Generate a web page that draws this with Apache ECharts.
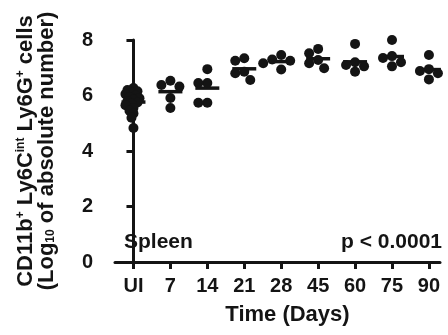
<!DOCTYPE html>
<html>
<head>
<meta charset="utf-8">
<script src="https://cdn.jsdelivr.net/npm/echarts@6/dist/echarts.min.js"></script>
<style>
  html, body { margin: 0; padding: 0; background: #fff; }
  #chart { width: 448px; height: 335px; }
</style>
</head>
<body>
<div id="chart"></div>
<script>
// Time points (days after infection; UI = uninfected)
const categories = ['UI', '7', '14', '21', '28', '45', '60', '75', '90'];

// log10 absolute number of CD11b+ Ly6C-int Ly6G+ cells per mouse
const valuesUI = [6.27, 6.20, 6.15, 6.10, 6.05, 6.00, 5.95, 5.90, 5.85, 5.80, 5.75, 5.70, 5.65, 5.55, 5.45, 5.35, 5.20, 4.83];
const values7  = [6.53, 6.38, 6.32, 5.91, 5.55];
const values14 = [6.95, 6.45, 6.45, 5.74, 5.74];
const values21 = [7.34, 7.25, 6.86, 6.80, 6.56];
const values28 = [7.46, 7.30, 7.25, 7.16, 6.94];
const values45 = [7.68, 7.52, 7.28, 7.16, 6.98];
const values60 = [7.86, 7.20, 7.10, 7.05, 6.86];
const values75 = [8.00, 7.42, 7.35, 7.20, 7.05];
const values90 = [7.46, 6.95, 6.88, 6.80, 6.58];

const groups = [valuesUI, values7, values14, values21, values28, values45, values60, values75, values90];

// y axis ticks
const yMin = 0, yMax = 8, yStep = 2;

const FONT = '"Liberation Sans", Arial, Helvetica, sans-serif';
const INK = '#141414';

const chart = echarts.init(document.getElementById('chart'), null, { renderer: 'canvas' });

const mean = a => a.reduce((s, v) => s + v, 0) / a.length;

function baseOption() {
  return {
    animation: false,
    backgroundColor: '#ffffff',
    grid: { left: 115, right: 8, top: 40, bottom: 73 },
    xAxis: {
      type: 'value',
      min: -0.5,
      max: 8.3,
      splitLine: { show: false },
      axisLine: { show: true, lineStyle: { color: INK, width: 3 } },
      axisTick: {
        show: true, inside: false, length: 7,
        customValues: categories.map((c, i) => i),
        lineStyle: { color: INK, width: 3 }
      },
      axisLabel: {
        customValues: categories.map((c, i) => i),
        formatter: v => categories[Math.round(v)],
        margin: 14,
        color: INK, fontFamily: FONT, fontWeight: 'bold', fontSize: 20
      },
      name: 'Time (Days)',
      nameLocation: 'middle',
      nameGap: 42,
      nameTextStyle: {
        color: INK, fontFamily: FONT, fontWeight: 'bold', fontSize: 22,
        padding: [0, 0, 0, 20]
      }
    },
    yAxis: {
      type: 'value',
      min: yMin, max: yMax, interval: yStep,
      splitLine: { show: false },
      axisLine: { show: true, lineStyle: { color: INK, width: 3 } },
      axisTick: { show: true, length: 7, lineStyle: { color: INK, width: 3 } },
      axisLabel: {
        margin: 22,
        color: INK, fontFamily: FONT, fontWeight: 'bold', fontSize: 20
      },
      name: '{t|CD11b}{sp|+}{t| Ly6C}{sp|int}{t| Ly6G}{sp|+}{t| cells}\n{t|(Log}{sb|10}{t| of absolute number)}',
      nameLocation: 'middle',
      nameGap: 58,
      nameTextStyle: {
        color: INK, fontFamily: FONT, fontWeight: 'bold', fontSize: 22,
        rich: {
          t:  { fontFamily: FONT, fontWeight: 'bold', fontSize: 22, lineHeight: 21, color: INK },
          sp: { fontFamily: FONT, fontWeight: 'bold', fontSize: 12, lineHeight: 21, verticalAlign: 'top', color: INK },
          sb: { fontFamily: FONT, fontWeight: 'bold', fontSize: 12, lineHeight: 21, verticalAlign: 'bottom', color: INK }
        }
      }
    },
    graphic: [
      {
        type: 'text', left: 124, top: 232,
        style: { text: 'Spleen', fill: INK, font: 'bold 21px ' + FONT }
      },
      {
        type: 'text', right: 6, top: 232,
        style: { text: 'p < 0.0001', fill: INK, font: 'bold 21px ' + FONT }
      }
    ],
    series: []
  };
}

chart.setOption(baseOption());

// pixel scale of the plotting area, used to spread overlapping dots sideways
const p0 = chart.convertToPixel({ gridIndex: 0 }, [0, 0]);
const p1 = chart.convertToPixel({ gridIndex: 0 }, [1, 1]);
const pxPerX = p1[0] - p0[0];
const pxPerY = p0[1] - p1[1];

// simple beeswarm: each dot takes the smallest sideways shift that keeps it clear of earlier dots
function swarmOffsets(vals, minDist, step) {
  const placed = [];
  return vals.map(v => {
    const y = v * pxPerY;
    for (let k = 0; k < 60; k++) {
      const off = k === 0 ? 0 : (k % 2 ? -1 : 1) * Math.ceil(k / 2) * step;
      if (placed.every(p => Math.hypot(p[0] - off, p[1] - y) >= minDist)) {
        placed.push([off, y]);
        return off;
      }
    }
    return 0;
  });
}

const dots = [];
groups.forEach((vals, i) => {
  const offs = vals.length > 8 ? swarmOffsets(vals, 4.5, 2) : swarmOffsets(vals, 9, 3);
  vals.forEach((v, j) => dots.push([i + offs[j] / pxPerX, v]));
});

const means = groups.map((vals, i) => [i, mean(vals)]);

chart.setOption({
  series: [
    {
      type: 'scatter',
      name: 'mean',
      data: means,
      symbol: 'rect',
      symbolSize: [24, 3.5],
      itemStyle: { color: INK, opacity: 1 },
      z: 2
    },
    {
      type: 'scatter',
      name: 'mice',
      data: dots,
      symbol: 'circle',
      symbolSize: 10,
      itemStyle: { color: INK, opacity: 1 },
      z: 3
    }
  ]
});
</script>
</body>
</html>
